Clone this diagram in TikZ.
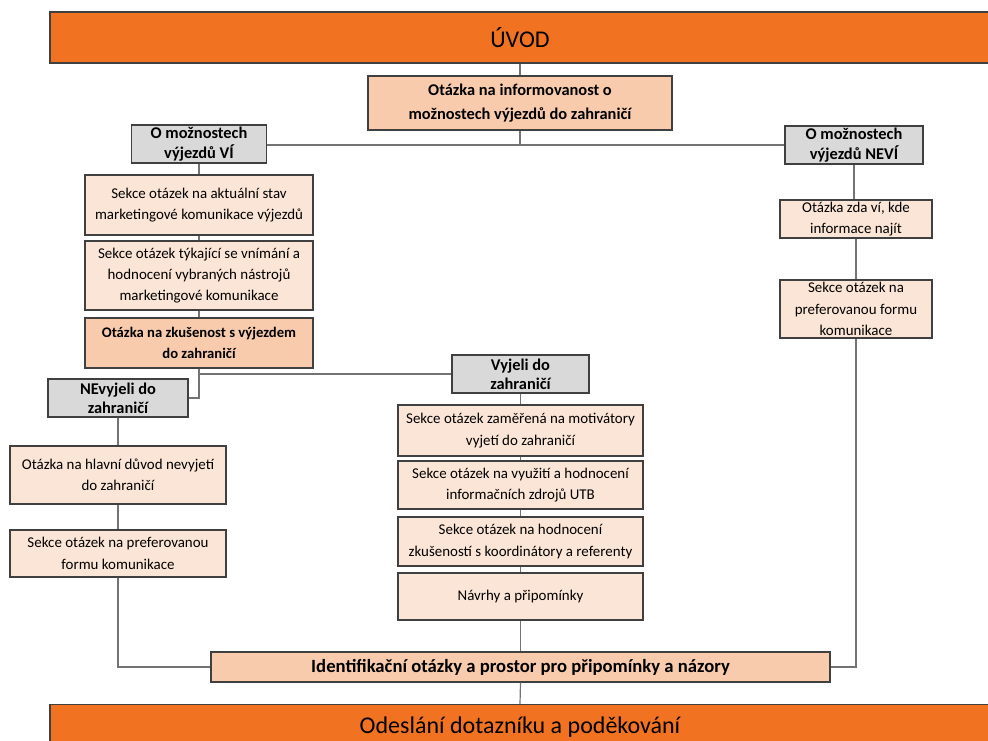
\documentclass[tikz,border=0pt]{standalone}
\usepackage{fontspec}
\setmainfont{Carlito}
\definecolor{bandorange}{RGB}{241,115,33}
\definecolor{peach}{RGB}{248,203,173}
\definecolor{lightpeach}{RGB}{251,229,214}
\definecolor{boxgray}{RGB}{217,217,217}
\definecolor{edgegray}{RGB}{64,64,64}
\tikzset{
    wd/.style={minimum width=#1*0.75pt},
    ht/.style={minimum height=#1*0.75pt},
    band/.style={draw=edgegray, fill=bandorange, inner sep=0pt, font=\fontsize{18}{21}\selectfont},
    qbox/.style={draw=edgegray, fill=lightpeach, inner sep=1pt, align=center, font=\fontsize{11.2}{16}\selectfont},
    keybox/.style={draw=edgegray, fill=peach, inner sep=1pt, align=center},
    splitbox/.style={draw=edgegray, fill=boxgray, inner sep=1pt, align=center, font=\bfseries\fontsize{12.3}{14.5}\selectfont},
    link/.style={draw=black!55, line width=0.9pt}
}
\begin{document}
\begin{tikzpicture}[x=0.75pt, y=-0.75pt, line width=0.8pt]
    \useasboundingbox (0,0) rectangle (988,740);

    % Start and end of the questionnaire
    \node[band, wd=940, ht=51] (intro) at (520,37.5) {ÚVOD};
    \node[band, wd=940, ht=46, anchor=north] (outro) at (520,704) {\raisebox{2pt}{Odeslání dotazníku a poděkování}};

    % First question and the split
    \node[keybox, wd=304, ht=54, font=\bfseries\fontsize{12.3}{18}\selectfont] (info) at (520,103)
        {Otázka na informovanost o\\možnostech výjezdů do zahraničí};
    \node[splitbox, wd=135, ht=38] (vi) at (199,144) {O možnostech\\výjezdů VÍ};
    \node[splitbox, wd=138, ht=38] (nevi) at (854,145) {O možnostech\\výjezdů NEVÍ};

    % Branch: knows
    \node[qbox, wd=228, ht=60] (stav) at (199,205)
        {Sekce otázek na aktuální stav\\marketingové komunikace výjezdů};
    \node[qbox, wd=228, ht=69] (vnimani) at (199,275.5)
        {Sekce otázek týkající se vnímání a\\hodnocení vybraných nástrojů\\marketingové komunikace};
    \node[keybox, wd=228, ht=50, font=\bfseries\fontsize{11}{15.5}\selectfont] (zkusenost) at (199,343)
        {Otázka na zkušenost s výjezdem\\do zahraničí};
    \node[splitbox, wd=137, ht=38] (vyjeli) at (520.5,374) {Vyjeli do\\zahraničí};
    \node[splitbox, wd=140, ht=38] (nevyjeli) at (118,398) {NEvyjeli do\\zahraničí};

    % Did not travel
    \node[qbox, wd=216, ht=58] (duvod) at (118,475)
        {Otázka na hlavní důvod nevyjetí\\do zahraničí};
    \node[qbox, wd=216, ht=47] (forma) at (118,553.5)
        {Sekce otázek na preferovanou\\formu komunikace};

    % Travelled
    \node[qbox, wd=245, ht=51] (motiv) at (520.5,430.5)
        {Sekce otázek zaměřená na motivátory\\vyjetí do zahraničí};
    \node[qbox, wd=245, ht=48] (zdroje) at (520.5,485)
        {Sekce otázek na využití a hodnocení\\informačních zdrojů UTB};
    \node[qbox, wd=245, ht=49] (koord) at (520.5,541.5)
        {Sekce otázek na hodnocení\\zkušeností s koordinátory a referenty};
    \node[qbox, wd=245, ht=47] (navrhy) at (520.5,596.5) {Návrhy a připomínky};

    % Branch: does not know
    \node[qbox, wd=152, ht=38] (najit) at (856,219)
        {Otázka zda ví, kde\\informace najít};
    \node[qbox, wd=152, ht=58] (preferne) at (856,309)
        {Sekce otázek na\\preferovanou formu\\komunikace};

    % Common end
    \node[keybox, wd=619, ht=30, font=\bfseries\fontsize{14}{16}\selectfont] (ident) at (520.5,667)
        {Identifikační otázky a prostor pro připomínky a názory};

    % Connectors
    \draw[link] (intro.south) -- (info.north);
    \draw[link] (info.south) -- (info.south |- nevi.west);
    \draw[link] (vi.east |- nevi.west) -- (nevi.west);
    \draw[link] (vi.south) -- (stav.north);
    \draw[link] (stav.south) -- (vnimani.north);
    \draw[link] (vnimani.south) -- (zkusenost.north);
    \draw[link] (zkusenost.south) |- (vyjeli.west);
    \draw[link] (zkusenost.south) |- (nevyjeli.east);
    \draw[link] (nevyjeli.south) -- (duvod.north);
    \draw[link] (duvod.south) -- (forma.north);
    \draw[link] (forma.south) |- (ident.west);
    \draw[link] (vyjeli.south) -- (motiv.north);
    \draw[link] (motiv.south) -- (zdroje.north);
    \draw[link] (zdroje.south) -- (koord.north);
    \draw[link] (koord.south) -- (navrhy.north);
    \draw[link] (navrhy.south) -- (ident.north);
    \draw[link] (nevi.south) -- (nevi.south |- najit.north);
    \draw[link] (najit.south) -- (preferne.north);
    \draw[link] (preferne.south) |- (ident.east);
    \draw[link] (ident.south) -- (outro.north);
\end{tikzpicture}
\end{document}
